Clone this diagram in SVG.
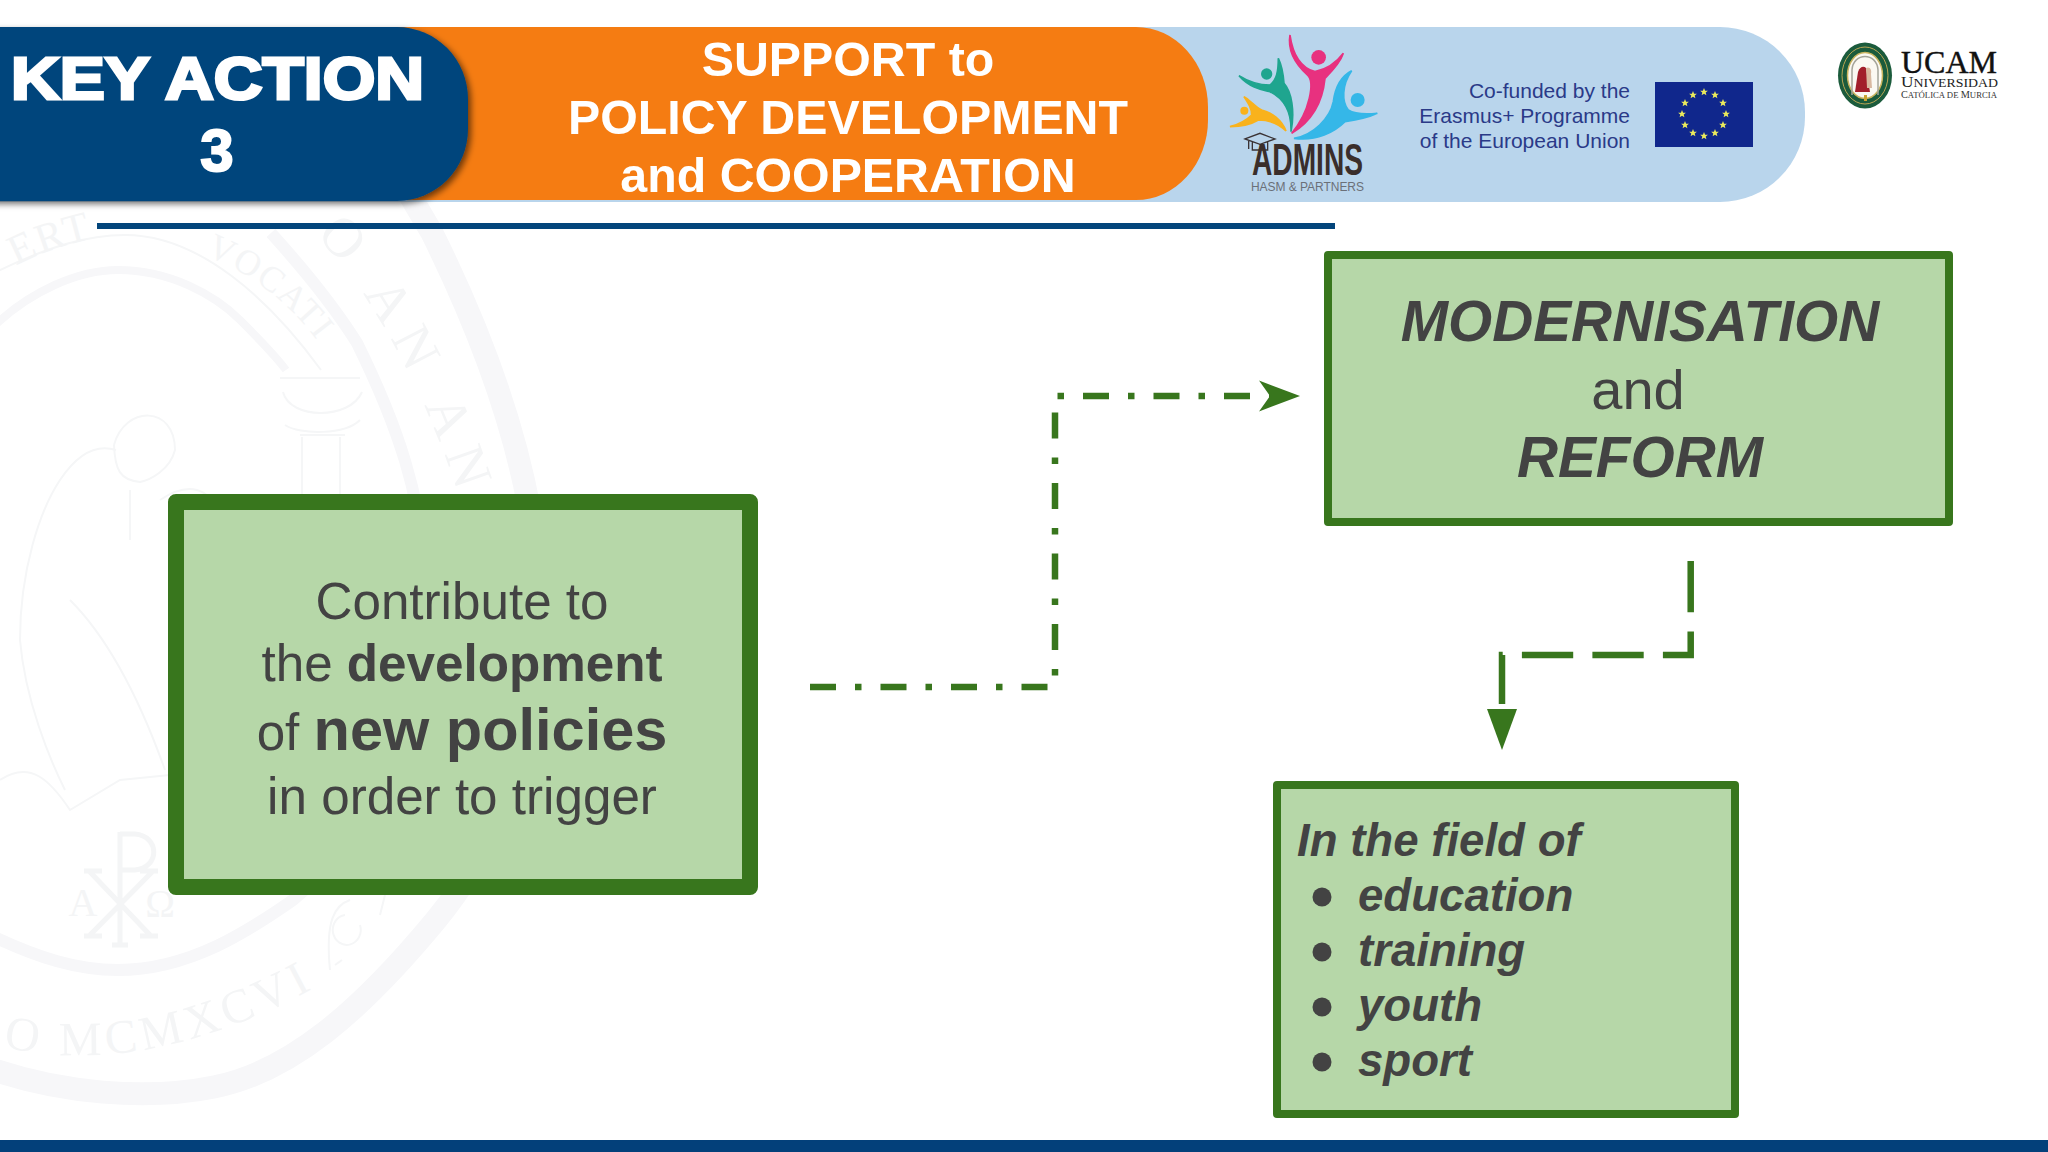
<svg xmlns="http://www.w3.org/2000/svg" xmlns:xlink="http://www.w3.org/1999/xlink" width="2048" height="1152" viewBox="0 0 2048 1152">
<style>
text{font-family:"Liberation Sans",Arial,sans-serif}
.hd{fill:#fff;font-weight:700;text-anchor:middle}
.box{fill:#b6d7a8;stroke:#38761d;stroke-linejoin:round}
.t{fill:#434343;text-anchor:middle}
.b{font-weight:700}
.bi{font-weight:700;font-style:italic;fill:#434343}
.wm{fill:none;stroke:#f7f7f9}
.wl{fill:none;stroke:#f5f6f7;stroke-width:2}
.wt{font-family:"Liberation Serif",serif;fill:#f4f5f6}
.con{fill:none;stroke:#38761d;stroke-width:6.5}
.eu{fill:#2a3a88;font-size:21px;text-anchor:end}
.star{fill:#eaea5c}
.ser{font-family:"Liberation Serif",serif}
</style>
<defs>
<filter id="sh" x="-10%" y="-20%" width="120%" height="150%"><feDropShadow dx="3" dy="3" stdDeviation="3" flood-color="#000" flood-opacity=".55"/></filter>
<marker id="a1" markerUnits="userSpaceOnUse" markerWidth="60" markerHeight="60" refX="20" refY="30" orient="auto" overflow="visible"><polygon points="4,14.5 45,30 4,45.5 15,30" fill="#38761d"/></marker>
<marker id="a2" markerUnits="userSpaceOnUse" markerWidth="60" markerHeight="60" refX="0" refY="30" orient="auto" overflow="visible"><polygon points="5,15 46,30 5,45" fill="#38761d"/></marker>
<polygon id="s" class="star" points="0,-4 1.1,-1.3 3.9,-1.2 1.7,.6 2.4,3.3 0,1.8 -2.4,3.3 -1.7,.6 -3.9,-1.2 -1.1,-1.3"/>
<path id="wb" d="M3 1047 Q150 1080 325 982"/>
<path id="wv" d="M205 255 Q280 285 325 352"/>
<path id="wa" d="M315 235 C370 290 425 390 462 505"/>
<path id="we" d="M16 266 Q70 236 190 222"/>
</defs>
<rect width="2048" height="1152" fill="#fff"/>
<g id="watermark">
<path class="wm" stroke-width="23" d="M-20 1065 C60 1095 150 1100 214 1087 C290 1072 360 1012 436 920 C510 830 540 720 540 620 C540 500 500 370 432 233 L395 170"/>
<path class="wm" stroke-width="12" d="M-20 930 C40 960 80 970 118 970 C190 970 250 930 293 900 C380 830 425 720 425 590 C425 500 395 420 357 343 C330 300 300 265 271 233"/>
<path class="wm" stroke-width="8" d="M-10 330 C30 290 80 270 118 270 C170 270 215 295 240 320 C260 340 275 355 286 370"/>
<path class="wl" d="M-10 275 C50 245 90 235 125 235 C200 235 270 300 321 370"/>
<path class="wl" d="M280 378 H360 M283 392 C290 420 350 420 362 392 M300 435 H345 M302 437 V495 M340 437 V495 M285 425 C300 435 345 435 360 420"/>
<path class="wl" d="M114 445 C125 405 175 405 175 450 C170 470 150 480 140 482 C120 480 115 470 114 445 M60 480 C80 450 100 445 116 450 M60 480 C40 510 20 570 20 640 C25 700 50 760 65 790 M160 500 C190 480 210 490 215 510 M130 490 V540 M70 600 C110 640 140 700 165 770 M0 780 C30 760 50 780 70 810 L120 780 L170 775"/>
<path id="chi-rho" fill="none" stroke="#f4f5f6" stroke-width="5" d="M120 832V945M112 945H128M120 834H135C160 836 160 868 135 870H120M90 872L150 935M152 872L90 935M84 871H102M140 871H158M84 936H102M140 936H158"/>
<text class="wt" x="83" y="916" font-size="40" text-anchor="middle">A</text>
<text class="wt" x="160" y="917" font-size="40" text-anchor="middle">Ω</text>
<path class="wl" d="M330 970 C325 920 335 905 350 900 M345 915 A14 15 0 1 0 360 925 M335 965 L342 960 M380 915 L385 895"/>
<text class="wt" font-size="48" letter-spacing="5"><textPath href="#wb" xlink:href="#wb">O MCMXCVI</textPath></text>
<text class="wt" font-size="36" letter-spacing="2"><textPath href="#wv" xlink:href="#wv">VOCATI</textPath></text>
<text class="wt" font-size="56" letter-spacing="12"><textPath href="#wa" xlink:href="#wa">O AN AN</textPath></text>
<text class="wt" font-size="42" letter-spacing="2"><textPath href="#we" xlink:href="#we">ERT</textPath></text>
</g>
<g id="header">
<rect x="-100" y="27" width="1905" height="175" rx="85" ry="85" fill="#b9d5ec"/>
<rect x="-100" y="27" width="1308" height="173" rx="72" ry="80" fill="#f57c12"/>
<rect x="-100" y="27" width="568" height="174" rx="71" ry="72" fill="#03457b" filter="url(#sh)"/>
<text class="hd" x="217.5" y="99" font-size="60" textLength="413" lengthAdjust="spacingAndGlyphs" stroke="#fff" stroke-width="3">KEY ACTION</text>
<text class="hd" x="217" y="171" font-size="60" stroke="#fff" stroke-width="2">3</text>
<text class="hd" x="848" y="75.5" font-size="48.3">SUPPORT to</text>
<text class="hd" x="848" y="133.5" font-size="48.3">POLICY DEVELOPMENT</text>
<text class="hd" x="848" y="192" font-size="48.3">and COOPERATION</text>
</g>
<g id="admins-logo">
<g transform="translate(1220 25) scale(.3333)">
<path fill="#e8317f" stroke="#e8317f" stroke-width="5" d="M210 30C200 90 240 130 262 150C285 170 270 260 215 325C290 280 310 210 315 160C345 130 362 110 370 85C340 125 310 135 285 140C250 130 220 100 210 30Z"/>
<circle cx="296" cy="97" r="22" fill="#e8317f"/>
<path fill="#1fa58f" stroke="#1fa58f" stroke-width="5" d="M57 152C90 190 130 195 150 200C190 220 215 260 213 320C225 260 215 200 192 175C190 150 185 120 175 100C175 140 170 165 150 180C120 180 85 170 57 152Z"/>
<circle cx="140" cy="147" r="17" fill="#1fa58f"/>
<path fill="#f9b21c" stroke="#f9b21c" stroke-width="5" d="M72 215C85 235 95 250 95 270C75 290 55 298 30 305C60 305 90 300 115 285C150 285 180 300 198 318C185 285 155 262 125 255C105 245 90 225 72 215Z"/>
<circle cx="73" cy="257" r="12" fill="#f9b21c"/>
<path fill="#35b7e8" stroke="#35b7e8" stroke-width="5" d="M395 137C360 155 345 190 340 230C330 280 280 330 222 340C290 350 345 320 375 290C410 285 445 278 472 265C440 268 405 268 385 255C365 230 365 180 395 137Z"/>
<circle cx="413" cy="225" r="21" fill="#35b7e8"/>
<path fill="none" stroke="#3a3335" stroke-width="4" d="M75 342L120 325L165 342L120 358ZM97 352V375H143V352M86 346V372"/>
</g>
<text x="1252" y="175" font-size="44" font-weight="700" fill="#3a2e2b" textLength="111" lengthAdjust="spacingAndGlyphs">ADMINS</text>
<text x="1251" y="191" font-size="12" fill="#6b7078" textLength="113">HASM &amp; PARTNERS</text>
</g>
<g id="eu-cofunded">
<text class="eu" x="1630" y="98">Co-funded by the</text>
<text class="eu" x="1630" y="123">Erasmus+ Programme</text>
<text class="eu" x="1630" y="148">of the European Union</text>
<rect x="1655" y="82" width="98" height="65" fill="#10278c"/>
<use href="#s" xlink:href="#s" x="1704" y="92"/><use href="#s" xlink:href="#s" x="1715" y="95"/><use href="#s" xlink:href="#s" x="1723" y="103"/><use href="#s" xlink:href="#s" x="1726" y="114"/><use href="#s" xlink:href="#s" x="1723" y="125"/><use href="#s" xlink:href="#s" x="1715" y="133"/><use href="#s" xlink:href="#s" x="1704" y="136"/><use href="#s" xlink:href="#s" x="1693" y="133"/><use href="#s" xlink:href="#s" x="1685" y="125"/><use href="#s" xlink:href="#s" x="1682" y="114"/><use href="#s" xlink:href="#s" x="1685" y="103"/><use href="#s" xlink:href="#s" x="1693" y="95"/>
</g>
<g id="ucam-logo">
<ellipse cx="1865" cy="75.5" rx="27" ry="33" fill="#1b5b3c"/>
<ellipse cx="1865" cy="75.5" rx="23" ry="28.5" fill="none" stroke="#b9a655" stroke-width="1"/>
<ellipse cx="1865" cy="75.5" rx="17.5" ry="23" fill="#fbf9f2" stroke="#c9b45f" stroke-width="1.5"/>
<path fill="none" stroke="#a5a59a" stroke-width="1.5" d="M1852 95V70C1853 52 1877 52 1878 70V95"/>
<path fill="#a21f2b" d="M1855 92L1858 72C1860 66 1864 66 1866 68L1870 92Z"/>
<path fill="#d9b9a0" d="M1866 68C1870 66 1872 70 1871 74L1872 88L1867 88Z"/>
<path fill="#c9a332" d="M1864 95h3v6h-3z"/>
<text class="ser" x="1901" y="73" font-size="31" fill="#111" stroke="#111" stroke-width=".4" textLength="96" lengthAdjust="spacingAndGlyphs">UCAM</text>
<text class="ser" x="1901" y="87" font-size="12" fill="#222" textLength="97" lengthAdjust="spacingAndGlyphs"><tspan font-size="15">U</tspan>NIVERSIDAD</text>
<text class="ser" x="1901" y="98" font-size="8.5" fill="#333" textLength="96" lengthAdjust="spacingAndGlyphs"><tspan font-size="10">C</tspan>ATÓLICA DE <tspan font-size="10">M</tspan>URCIA</text>
</g>
<rect id="header-rule" x="97" y="223" width="1238" height="6" fill="#03457b"/>
<g id="connectors">
<path class="con" stroke-dasharray="26 19 6.5 19" marker-end="url(#a1)" d="M810 687H1055V396H1275"/>
<path class="con" stroke-dasharray="51.3 19.2" marker-end="url(#a2)" d="M1690.7 561V655H1502V704"/>
</g>
<g id="node-policies">
<rect class="box" x="176" y="502" width="574" height="385" stroke-width="16"/>
<text class="t" x="462" y="619" font-size="51.2">Contribute to</text>
<text class="t" x="462" y="681" font-size="51.2">the <tspan class="b">development</tspan></text>
<text class="t" x="462" y="750" font-size="51.2">of <tspan class="b" font-size="59.5">new policies</tspan></text>
<text class="t" x="462" y="814" font-size="51.2">in order to trigger</text>
</g>
<g id="node-reform">
<rect class="box" x="1328" y="255" width="621" height="267" stroke-width="8"/>
<text class="t bi" x="1640" y="341" font-size="56.8">MODERNISATION</text>
<text class="t" x="1638" y="409" font-size="56">and</text>
<text class="t bi" x="1640" y="477" font-size="56.8">REFORM</text>
</g>
<g id="node-fields">
<rect class="box" x="1277" y="785" width="458" height="329" stroke-width="8"/>
<text class="bi" x="1297" y="856" font-size="45.6">In the field of</text>
<circle cx="1322" cy="897" r="9.5" fill="#434343"/>
<text class="bi" x="1358" y="911" font-size="45.6">education</text>
<circle cx="1322" cy="952" r="9.5" fill="#434343"/>
<text class="bi" x="1358" y="966" font-size="45.6">training</text>
<circle cx="1322" cy="1007" r="9.5" fill="#434343"/>
<text class="bi" x="1358" y="1021" font-size="45.6">youth</text>
<circle cx="1322" cy="1062" r="9.5" fill="#434343"/>
<text class="bi" x="1358" y="1076" font-size="45.6">sport</text>
</g>
<rect id="footer" x="0" y="1140" width="2048" height="12" fill="#03407a"/>
</svg>
